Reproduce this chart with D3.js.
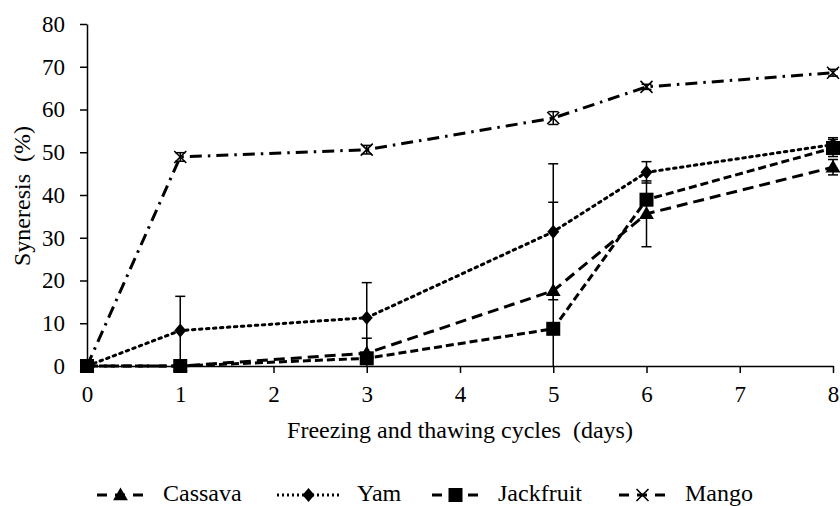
<!DOCTYPE html>
<html>
<head>
<script src="https://d3js.org/d3.v7.min.js"></script>
<style>
  body { margin: 0; background: #fff; }
  text { font-family: "Liberation Serif", "Times New Roman", serif; fill: #000; white-space: pre; }
</style>
</head>
<body>
<script>
// data
var days = [0, 1, 3, 5, 6, 8];
var cassava = [0, 0, 3.0, 17.6, 35.6, 46.5];
var cassavaErr = [0, 0, 3.5, 20.7, 7.7, 1.8];
var yam = [0, 8.3, 11.3, 31.4, 45.3, 51.8];
var yamErr = [0, 8.0, 8.2, 15.9, 2.5, 1.6];
var jackfruit = [0, 0, 1.8, 8.7, 38.9, 51.0];
var jackfruitErr = [0, 0, 0.5, 0, 1.2, 2.0];
var mango = [0, 48.9, 50.6, 58.0, 65.3, 68.6];
var mangoErr = [0, 1.0, 1.0, 1.5, 0.6, 0.8];
var xTicks = [0, 1, 2, 3, 4, 5, 6, 7, 8];
var yTicks = [0, 10, 20, 30, 40, 50, 60, 70, 80];

var series = [
  { name: "Cassava", values: cassava, err: cassavaErr, dash: "11,6", marker: "triangle" },
  { name: "Yam", values: yam, err: yamErr, dash: "2.5,4.5", marker: "diamond" },
  { name: "Jackfruit", values: jackfruit, err: jackfruitErr, dash: "8,4", marker: "square" },
  { name: "Mango", values: mango, err: mangoErr, dash: "12,6,2.5,6", marker: "cross" }
];

var width = 840, height = 506;
var svg = d3.select("body").append("svg")
  .attr("width", width).attr("height", height);

var x = d3.scaleLinear().domain([0, 8]).range([87, 833]);
var y = d3.scaleLinear().domain([0, 80]).range([366, 24]);

// axes
var xAxis = svg.append("g").attr("transform", "translate(0,366)")
  .call(d3.axisBottom(x).tickValues(xTicks).tickSize(7).tickSizeOuter(0).tickPadding(13).tickFormat(d3.format("d")));
var yAxis = svg.append("g").attr("transform", "translate(87,0)")
  .call(d3.axisLeft(y).tickValues(yTicks).tickSize(7).tickSizeOuter(0).tickPadding(15).tickFormat(d3.format("d")));
[xAxis, yAxis].forEach(function(a) {
  a.select(".domain").attr("stroke", "#000").attr("stroke-width", 1.5);
  a.selectAll(".tick line").attr("stroke", "#000").attr("stroke-width", 1.5);
  a.selectAll(".tick text").attr("fill", "#000").style("font-family", "Liberation Serif").style("font-size", "23px");
});

svg.append("text").attr("x", 460).attr("y", 438).attr("text-anchor", "middle").attr("fill", "#000")
  .style("font-size", "24px").text("Freezing and thawing cycles  (days)");
svg.append("text").attr("transform", "translate(30,196) rotate(-90)").attr("text-anchor", "middle").attr("fill", "#000")
  .style("font-size", "24px").text("Syneresis  (%)");

function drawMarker(g, type, cx, cy) {
  if (type === "triangle") {
    g.append("path").attr("d", d3.symbol().type(d3.symbolTriangle).size(95)())
      .attr("transform", "translate(" + cx + "," + (cy + 1) + ")").attr("fill", "#000");
  } else if (type === "diamond") {
    g.append("path").attr("d", "M0,-7L6,0L0,7L-6,0Z")
      .attr("transform", "translate(" + cx + "," + cy + ")").attr("fill", "#000");
  } else if (type === "square") {
    g.append("rect").attr("x", cx - 7).attr("y", cy - 7).attr("width", 14).attr("height", 14).attr("fill", "#000");
  } else {
    g.append("path").attr("d", "M-6,-6L6,6M-6,6L6,-6")
      .attr("transform", "translate(" + cx + "," + cy + ")").attr("stroke", "#000").attr("stroke-width", 1.6).attr("fill", "none");
  }
}

var line = d3.line().x(function(d, i) { return x(days[i]); }).y(function(d) { return y(d); });

series.forEach(function(s) {
  var g = svg.append("g");
  // error bars
  s.values.forEach(function(v, i) {
    if (!s.err[i]) return;
    var cx = x(days[i]);
    var top = y(v + s.err[i]), bot = y(Math.max(0, v - s.err[i]));
    g.append("line").attr("x1", cx).attr("x2", cx).attr("y1", top).attr("y2", bot)
      .attr("stroke", "#000").attr("stroke-width", 1.5);
    g.append("line").attr("x1", cx - 5).attr("x2", cx + 5).attr("y1", top).attr("y2", top)
      .attr("stroke", "#000").attr("stroke-width", 1.5);
    if (v - s.err[i] > 0)
      g.append("line").attr("x1", cx - 5).attr("x2", cx + 5).attr("y1", bot).attr("y2", bot)
        .attr("stroke", "#000").attr("stroke-width", 1.5);
  });
  g.append("path").datum(s.values).attr("d", line)
    .attr("fill", "none").attr("stroke", "#000").attr("stroke-width", 3)
    .attr("stroke-dasharray", s.dash).attr("stroke-linecap", s.marker === "diamond" ? "round" : "butt");
  s.values.forEach(function(v, i) { drawMarker(g, s.marker, x(days[i]), y(v)); });
});

// legend
var legendX = [95, 277, 430, 617];
series.forEach(function(s, i) {
  var g = svg.append("g");
  var lx = legendX[i], ly = 495;
  var len = s.marker === "diamond" ? 63 : 51;
  g.append("line").attr("x1", lx).attr("x2", lx + len).attr("y1", ly).attr("y2", ly)
    .attr("stroke", "#000").attr("stroke-width", 3).attr("stroke-dasharray", s.marker === "diamond" ? "2,3" : "10,8")
    .attr("stroke-dashoffset", s.marker === "diamond" ? 0 : -2);
  drawMarker(g, s.marker, lx + len / 2, ly);
  g.append("text").attr("x", lx + len + 17).attr("y", 501).attr("fill", "#000")
    .style("font-size", "24px").text(s.name);
});
</script>
</body>
</html>
